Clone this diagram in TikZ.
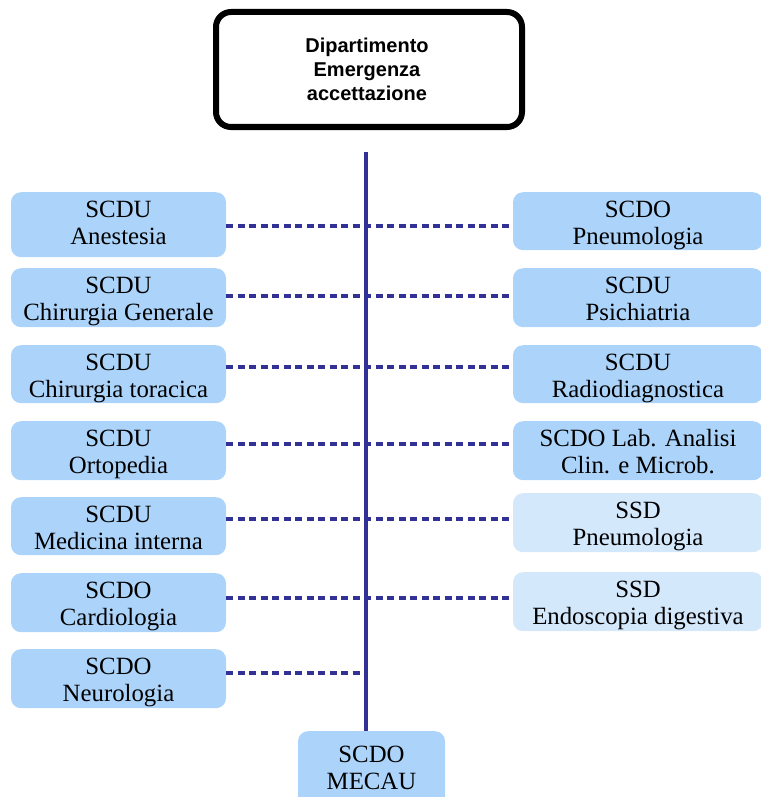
\documentclass[tikz,border=0pt]{standalone}
\usepackage{fontspec}
\setmainfont{Liberation Serif}
\newfontfamily\headfont{Liberation Sans}
\usetikzlibrary{calc}

\definecolor{unitblue}{HTML}{ACD4FA}
\definecolor{ssdblue}{HTML}{D4E8FB}
\definecolor{linkblue}{HTML}{313196}

\tikzset{
  deptbox/.style={draw=black, line width=6pt, rounded corners=15pt, fill=white,
    minimum width=306pt, minimum height=115pt, inner sep=0pt},
  headtext/.style={font=\headfont\bfseries\fontsize{20}{24}\selectfont, align=center, inner sep=0pt},
  unitbox/.style={fill=unitblue, draw=none, rounded corners=10pt, inner sep=0pt},
  ssdbox/.style={fill=ssdblue, draw=none, rounded corners=10pt, inner sep=0pt},
  leftcol/.style={minimum width=215pt},
  rightcol/.style={minimum width=250pt},
  boxtext/.style={font=\fontsize{24.8}{27}\selectfont, align=center, inner sep=0pt, text=black},
  spineline/.style={draw=linkblue, line width=3.5pt},
  dashline/.style={draw=linkblue, line width=3.5pt, dash pattern=on 7pt off 4.5pt}
}

% \ubox{name}{styles}{centre x}{top y}{height}{text}
\newcommand\ubox[6]{%
  \node[#2, minimum height=#5pt, anchor=north] (#1) at (#3,#4) {};
  \node[boxtext, anchor=north] (#1-t) at ([yshift=-6.1pt]#1.north) {#6};
}

\begin{document}
\begin{tikzpicture}[x=1pt, y=-1pt]
  \useasboundingbox (0,0) rectangle (760,797);

  % department
  \node[deptbox] (D) at (369,69.5) {};
  \node[headtext, anchor=north] (D-t) at (367,35.2)
    {\strut Dipartimento\\\strut Emergenza\\\strut accettazione};

  % left column
  \ubox{L1}{unitbox,leftcol}{118.5}{192}{65}{\strut SCDU\\\strut Anestesia}
  \ubox{L2}{unitbox,leftcol}{118.5}{268}{59}{\strut SCDU\\\strut Chirurgia Generale}
  \ubox{L3}{unitbox,leftcol}{118.5}{345}{58}{\strut SCDU\\\strut Chirurgia toracica}
  \ubox{L4}{unitbox,leftcol}{118.5}{421}{59}{\strut SCDU\\\strut Ortopedia}
  \ubox{L5}{unitbox,leftcol}{118.5}{497}{58}{\strut SCDU\\\strut Medicina interna}
  \ubox{L6}{unitbox,leftcol}{118.5}{573}{59}{\strut SCDO\\\strut Cardiologia}
  \ubox{L7}{unitbox,leftcol}{118.5}{649}{59}{\strut SCDO\\\strut Neurologia}

  % right column
  \ubox{R1}{unitbox,rightcol}{638}{192}{58}{\strut SCDO\\\strut Pneumologia}
  \ubox{R2}{unitbox,rightcol}{638}{268}{59}{\strut SCDU\\\strut Psichiatria}
  \ubox{R3}{unitbox,rightcol}{638}{345}{58}{\strut SCDU\\\strut Radiodiagnostica}
  \ubox{R4}{unitbox,rightcol}{638}{421}{59}{\strut SCDO Lab. Analisi\\\strut Clin. e Microb.}
  \ubox{R5}{ssdbox,rightcol}{638}{493}{59}{\strut SSD\\\strut Pneumologia}
  \ubox{R6}{ssdbox,rightcol}{638}{572}{59}{\strut SSD\\\strut Endoscopia digestiva}

  % bottom unit
  \node[unitbox, minimum width=147pt, minimum height=80pt, anchor=north] (M) at (371.5,731) {};
  \node[boxtext, anchor=north] (M-t) at ([yshift=-12pt]M.north)
    {\strut SCDO\\\strut MECAU};

  % spine
  \coordinate (spinetop) at (366,152);
  \draw[spineline] (spinetop) -- (spinetop |- M.north);

  % dashed links, one per row
  \coordinate (r1) at (366,226);
  \coordinate (r2) at (366,296);
  \coordinate (r3) at (366,367);
  \coordinate (r4) at (366,444);
  \coordinate (r5) at (366,519);
  \coordinate (r6) at (366,598);
  \coordinate (r7) at (366,673);
  \foreach \i in {1,...,6} {
    \draw[dashline] (L\i.east |- r\i) -- (R\i.west |- r\i);
  }
  \draw[dashline] (L7.east |- r7) -- (r7);
\end{tikzpicture}
\end{document}
